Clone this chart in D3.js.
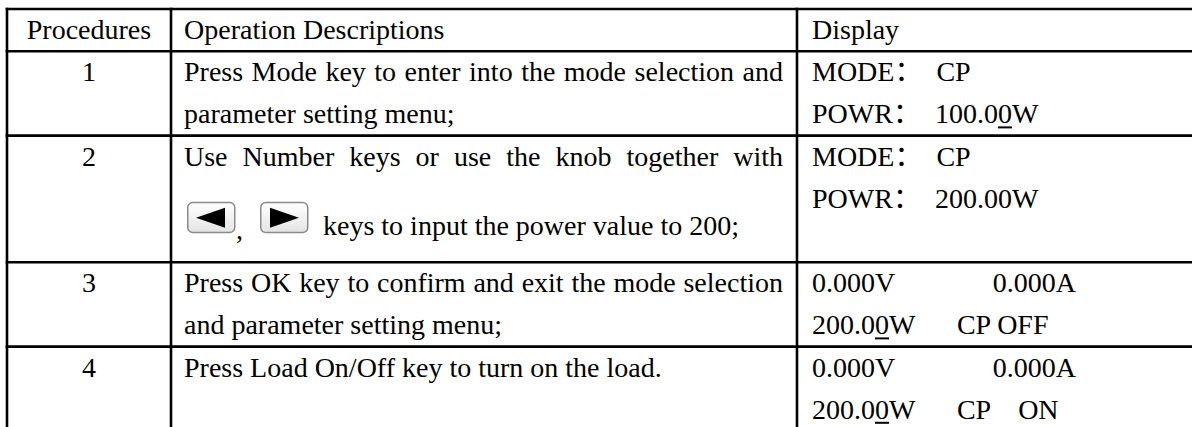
<!DOCTYPE html>
<html><head><meta charset="utf-8">
<script src="https://cdn.jsdelivr.net/npm/d3@7"></script>
<style>
html,body{margin:0;padding:0;background:#fff;overflow:hidden;}
svg text{font-family:"Liberation Serif","Times New Roman","Noto Sans CJK SC",serif;font-size:28px;fill:#000;white-space:pre;}
</style></head><body>
<svg id="c" width="1192" height="427"></svg>
<script>
// ---- table content ----
const headers = ["Procedures", "Operation Descriptions", "Display"];
const steps = ["1", "2", "3", "4"];
const descLines = [
  ["Press Mode key to enter into the mode selection and", "parameter setting menu;"],
  ["Use Number keys or use the knob together with", "keys to input the power value to 200;"],
  ["Press OK key to confirm and exit the mode selection", "and parameter setting menu;"],
  ["Press Load On/Off key to turn on the load."]
];
const descJustified = [[true, false], [true, false], [true, false], [false]];
const descIconLine = [[false, false], [false, true], [false, false], [false]];
const displayLines = [
  ["MODE：  CP", "POWR：  100.00W"],
  ["MODE：  CP", "POWR：  200.00W"],
  ["0.000V              0.000A", "200.00W      CP OFF"],
  ["0.000V              0.000A", "200.00W      CP    ON"]
];
const cursorIndex = [[-1, 12], [-1, -1], [-1, 5], [-1, 5]];
const rowUnits = [1, 2, 3, 2, 2]; // header + 4 rows, in text-line units

// ---- layout ----
const W = 1192, H = 427;
const svg = d3.select("#c");
const colEdges = [7, 171, 797, W];
const padL = 13, textRight = 783;
const totalUnits = d3.sum(rowUnits);
const y = d3.scaleLinear().domain([0, totalUnits]).range([9, 9 + totalUnits * 42.2]);
const rowStart = [0]; rowUnits.forEach((u, i) => rowStart.push(rowStart[i] + u));
const base = u => y(u) + 30;

// defs for key icons
const defs = svg.append("defs");
const g = defs.append("linearGradient").attr("id", "kg").attr("x1", 0).attr("y1", 0).attr("x2", 0).attr("y2", 1);
g.append("stop").attr("offset", "0%").attr("stop-color", "#ffffff");
g.append("stop").attr("offset", "100%").attr("stop-color", "#e4e4e4");

// measuring helper
const meas = svg.append("text").attr("x", -1000).attr("y", -1000);
function tw(s) { meas.text(s); return meas.node().getComputedTextLength(); }

// header
headers.forEach((h, c) => {
  const t = svg.append("text").attr("y", base(0)).text(h);
  if (c === 0) t.attr("x", (colEdges[0] + colEdges[1]) / 2).attr("text-anchor", "middle");
  else t.attr("x", colEdges[c] + padL + (c === 2 ? 2 : 0));
});

// rows
steps.forEach((s, r) => {
  const u0 = rowStart[r + 1];
  svg.append("text").attr("x", (colEdges[0] + colEdges[1]) / 2).attr("y", base(u0))
    .attr("text-anchor", "middle").text(s);

  descLines[r].forEach((line, li) => {
    const x0 = colEdges[1] + padL;
    if (descJustified[r][li]) {
      const words = line.split(" ");
      const ws = words.map(tw);
      const gap = (textRight - x0 - d3.sum(ws)) / (words.length - 1);
      let x = x0;
      words.forEach((w, i) => {
        svg.append("text").attr("x", x).attr("y", base(u0 + li)).text(w);
        x += ws[i] + gap;
      });
    } else if (descIconLine[r][li]) {
      const bl = y(u0 + li) + 57;
      let x = x0 + 3;
      const drawKey = (dir) => {
        const kg = svg.append("g").attr("transform", `translate(${x},${bl - 33})`);
        kg.append("rect").attr("x", 0.75).attr("y", 0.75).attr("width", 47).attr("height", 30)
          .attr("rx", 5).attr("fill", "url(#kg)").attr("stroke", "#8a8a8a").attr("stroke-width", 1.5);
        const cx = 24, cy = 16;
        const pts = dir < 0 ? [[cx - 15, cy], [cx + 14, cy - 10], [cx + 14, cy + 10]]
                            : [[cx + 15, cy], [cx - 14, cy - 10], [cx - 14, cy + 10]];
        kg.append("path").attr("d", d3.line()(pts) + "Z").attr("fill", "#000");
        x += 48;
      };
      drawKey(-1);
      svg.append("text").attr("x", x + 1).attr("y", bl + 4).text(",");
      x += 25;
      drawKey(1);
      svg.append("text").attr("x", x + 15).attr("y", bl).text(line);
    } else {
      svg.append("text").attr("x", x0).attr("y", base(u0 + li)).text(line);
    }
  });

  displayLines[r].forEach((line, li) => {
    const t = svg.append("text").attr("x", colEdges[2] + padL + 2).attr("y", base(u0 + li))
      .attr("xml:space", "preserve").text(line);
    const ci = cursorIndex[r][li];
    if (ci >= 0) {
      const e = t.node().getExtentOfChar(ci);
      svg.append("line").attr("x1", e.x).attr("x2", e.x + e.width)
        .attr("y1", base(u0 + li) + 4).attr("y2", base(u0 + li) + 4)
        .attr("stroke", "#000").attr("stroke-width", 2);
    }
  });
});
meas.remove();

// grid lines
const hLines = rowStart.slice(0, rowStart.length);
svg.append("g").selectAll("line.h").data(hLines).join("line")
  .attr("x1", colEdges[0] - 1.3).attr("x2", W).attr("y1", d => y(d)).attr("y2", d => y(d))
  .attr("stroke", "#000").attr("stroke-width", 2.6);
svg.append("g").selectAll("line.v").data(colEdges.slice(0, 3)).join("line")
  .attr("x1", d => d).attr("x2", d => d).attr("y1", y(0) - 1.3).attr("y2", H + 5)
  .attr("stroke", "#000").attr("stroke-width", 2.6);
</script>
</body></html>
